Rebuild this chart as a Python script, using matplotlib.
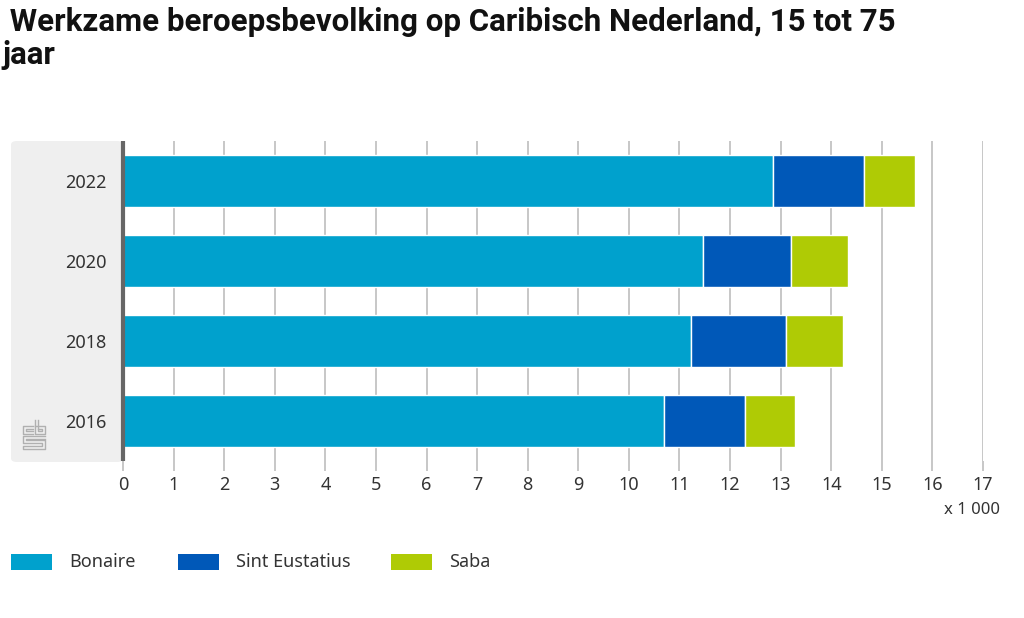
import matplotlib
matplotlib.use('Agg')
import matplotlib.pyplot as plt
from matplotlib.patches import FancyBboxPatch, Rectangle
from matplotlib.lines import Line2D

# data (x 1000)
years = ['2016', '2018', '2020', '2022']
bonaire = [10.70, 11.23, 11.47, 12.84]
sint_eustatius = [1.60, 1.87, 1.74, 1.80]
saba = [0.98, 1.14, 1.12, 1.01]
series_names = ['Bonaire', 'Sint Eustatius', 'Saba']
colors = ['#00a1cd', '#0058b8', '#afcb05']
xticks = list(range(0, 18))

W, H = 1024, 618
plt.rcParams['font.family'] = ['Noto Sans', 'DejaVu Sans']

fig = plt.figure(figsize=(W / 100, H / 100), dpi=100)


def px(x, y):
    return x / W, 1 - y / H


# grey panel behind the category labels
x0, y0 = px(11, 462)
x1, y1 = px(123, 141)
panel = FancyBboxPatch((x0, y0), x1 - x0, y1 - y0, boxstyle='round,pad=0,rounding_size=0.006',
                       transform=fig.transFigure, facecolor='#efefef', edgecolor='none', zorder=-1)
fig.patches.append(panel)

ax_l, ax_b = px(123, 461)
ax_r, ax_t = px(983, 141)
ax = fig.add_axes([ax_l, ax_b, ax_r - ax_l, ax_t - ax_b])
ax.patch.set_alpha(0)

ypos = list(range(len(years)))
left = [0] * len(years)
for vals, name, col in zip([bonaire, sint_eustatius, saba], series_names, colors):
    ax.barh(ypos, vals, left=left, height=0.66, color=col, edgecolor='white', linewidth=1, label=name, zorder=3)
    left = [a + b for a, b in zip(left, vals)]

ax.set_xlim(0, 17)
ax.set_ylim(-0.5, 3.5)
ax.set_xticks(xticks)
ax.set_xticklabels([str(t) for t in xticks])
ax.set_yticks(ypos)
ax.set_yticklabels(years)
ax.grid(True, axis='x', color='#bdbdbd', linewidth=1.2, zorder=1)
ax.set_axisbelow(True)
for s in ['top', 'right', 'bottom']:
    ax.spines[s].set_visible(False)
ax.spines['left'].set_color('#666666')
ax.spines['left'].set_linewidth(3)
ax.spines['left'].set_capstyle('butt')
ax.spines['left'].set_zorder(4)
ax.tick_params(axis='x', length=7, width=1.2, color='#bdbdbd', labelsize=13, labelcolor='#333333', pad=4)
ax.tick_params(axis='y', length=0, labelsize=13, labelcolor='#333333', pad=12)

# title
tx, ty = px(2, 7)
fig.text(tx, ty, ' Werkzame beroepsbevolking op Caribisch Nederland, 15 tot 75\njaar',
         fontsize=22.5, fontweight='bold', family=['Roboto', 'DejaVu Sans'],
         color='#111111', va='top', ha='left', linespacing=1.12)

# unit label
ux, uy = px(1000, 510)
fig.text(ux, uy, 'x 1 000', fontsize=12, color='#333333', ha='right', va='center')

# legend
lx = [11, 178, 391]
for name, col, x in zip(series_names, colors, lx):
    rx, ry = px(x, 570)
    rw = 41 / W
    rh = 16 / H
    fig.patches.append(Rectangle((rx, ry), rw, rh, transform=fig.transFigure,
                                 facecolor=col, edgecolor='none'))
    tx, ty = px(x + 58, 562)
    fig.text(tx, ty, name, fontsize=13, color='#333333', ha='left', va='center')

# cbs logo (simple line drawing)
logo = [
    [(33, 426), (23, 426), (23, 434), (33, 434)],
    [(33, 429), (26, 429), (26, 431), (33, 431)],
    [(35, 420), (35, 434), (45, 434), (45, 426), (35, 426)],
    [(38, 420), (38, 423), (38, 429), (42, 429), (42, 431), (38, 431), (38, 429)],
    [(45, 436), (23, 436), (23, 443), (42, 443), (42, 446), (23, 446), (23, 449), (45, 449), (45, 440), (26, 440), (26, 439), (45, 439)],
]
for path in logo:
    pts = [px(x, y) for x, y in path]
    fig.lines.append(Line2D([p[0] for p in pts], [p[1] for p in pts], transform=fig.transFigure,
                            color='#b0b0b0', linewidth=1))

plt.savefig('out.png', dpi=100)
